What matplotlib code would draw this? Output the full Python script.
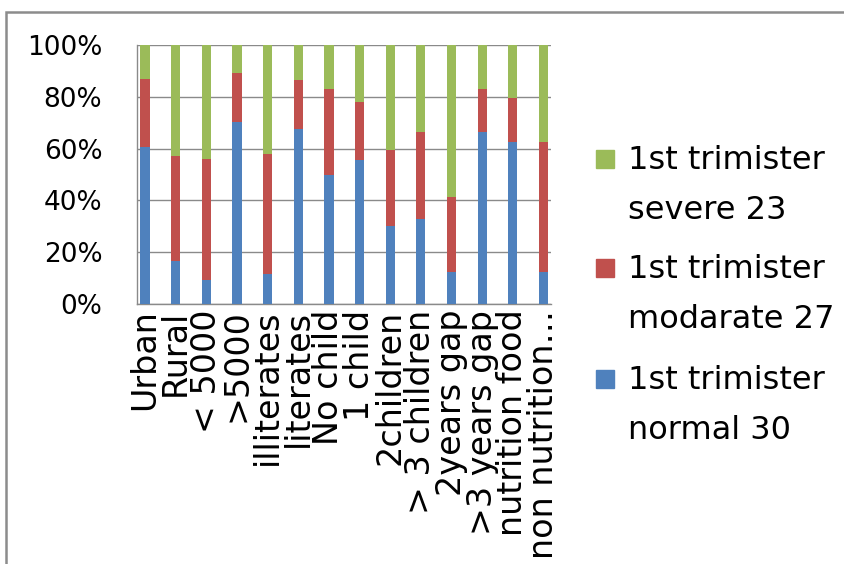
import matplotlib
matplotlib.use('Agg')
import matplotlib.pyplot as plt
from matplotlib.patches import Rectangle
import numpy as np

# Share of each 1st-trimester grade within every group (percent)
categories = ['Urban', 'Rural', '< 5000', '>5000', 'illiterates', 'literates',
              'No child', '1 child', '2children', '> 3 children', '2years gap',
              '>3 years gap', 'nutrition food', 'non nutrition…']
normal = [60.5, 16.7, 9.3, 70.3, 11.6, 67.6, 50.0, 55.5, 30.0, 33.0, 12.2, 66.4, 62.5, 12.2]
moderate = [26.3, 40.5, 46.5, 18.9, 46.5, 18.9, 33.0, 22.5, 29.6, 33.5, 29.0, 16.6, 17.0, 50.3]
severe = [13.2, 42.8, 44.2, 10.8, 41.9, 13.5, 17.0, 22.0, 40.4, 33.5, 58.8, 17.0, 20.5, 37.5]

series_names = ['1st trimister normal 30', '1st trimister modarate 27', '1st trimister severe 23']
colors = ['#4F81BD', '#C0504D', '#9BBB59']
yticks = [0, 20, 40, 60, 80, 100]

W, H = 845, 564
fig = plt.figure(figsize=(W / 100, H / 100), dpi=100)
ax = fig.add_axes([137 / W, 1 - 304 / H, 414 / W, 259 / H])

x = np.arange(len(categories))
bottom = np.zeros(len(categories))
for vals, col in zip([normal, moderate, severe], colors):
    ax.bar(x, vals, width=0.3, bottom=bottom, color=col, zorder=3)
    bottom += np.array(vals)

ax.set_xlim(-0.26, len(categories) - 1 + 0.245)
ax.set_ylim(0, 100)
ax.set_yticks(yticks)
ax.set_yticklabels(['{}%'.format(v) for v in yticks], fontsize=19)
ax.set_xticks(x)
ax.set_xticklabels(categories, rotation=90, fontsize=24, va='top', ha='center')
ax.tick_params(axis='y', length=0, pad=25)
ax.tick_params(axis='x', length=0, pad=4)

ax.grid(axis='y', color='#8a8a8a', linewidth=1, zorder=0)
for side in ['top', 'right']:
    ax.spines[side].set_visible(False)
for side in ['left', 'bottom']:
    ax.spines[side].set_color('#8a8a8a')
    ax.spines[side].set_linewidth(1)

# Legend on the right, top entry is the last stacked series
entry_tops = [148, 257, 368]
for i, (name, col) in enumerate(zip(series_names[::-1], colors[::-1])):
    top = entry_tops[i]
    fig.add_artist(Rectangle((596 / W, 1 - (top + 20) / H), 18 / W, 18 / H,
                             transform=fig.transFigure, color=col))
    first, second = name.split('trimister ')
    fig.text(628 / W, 1 - (top + 21) / H, first + 'trimister', fontsize=23,
             va='baseline', ha='left')
    fig.text(628 / W, 1 - (top + 71) / H, second, fontsize=23,
             va='baseline', ha='left')

# Chart frame
fig.add_artist(Rectangle((6 / W, -0.1), 1.2, 1 - 12 / H + 0.1, transform=fig.transFigure,
                         fill=False, edgecolor='#8c8c8c', linewidth=1.8))

fig.savefig('out.png', dpi=100, facecolor='white')
